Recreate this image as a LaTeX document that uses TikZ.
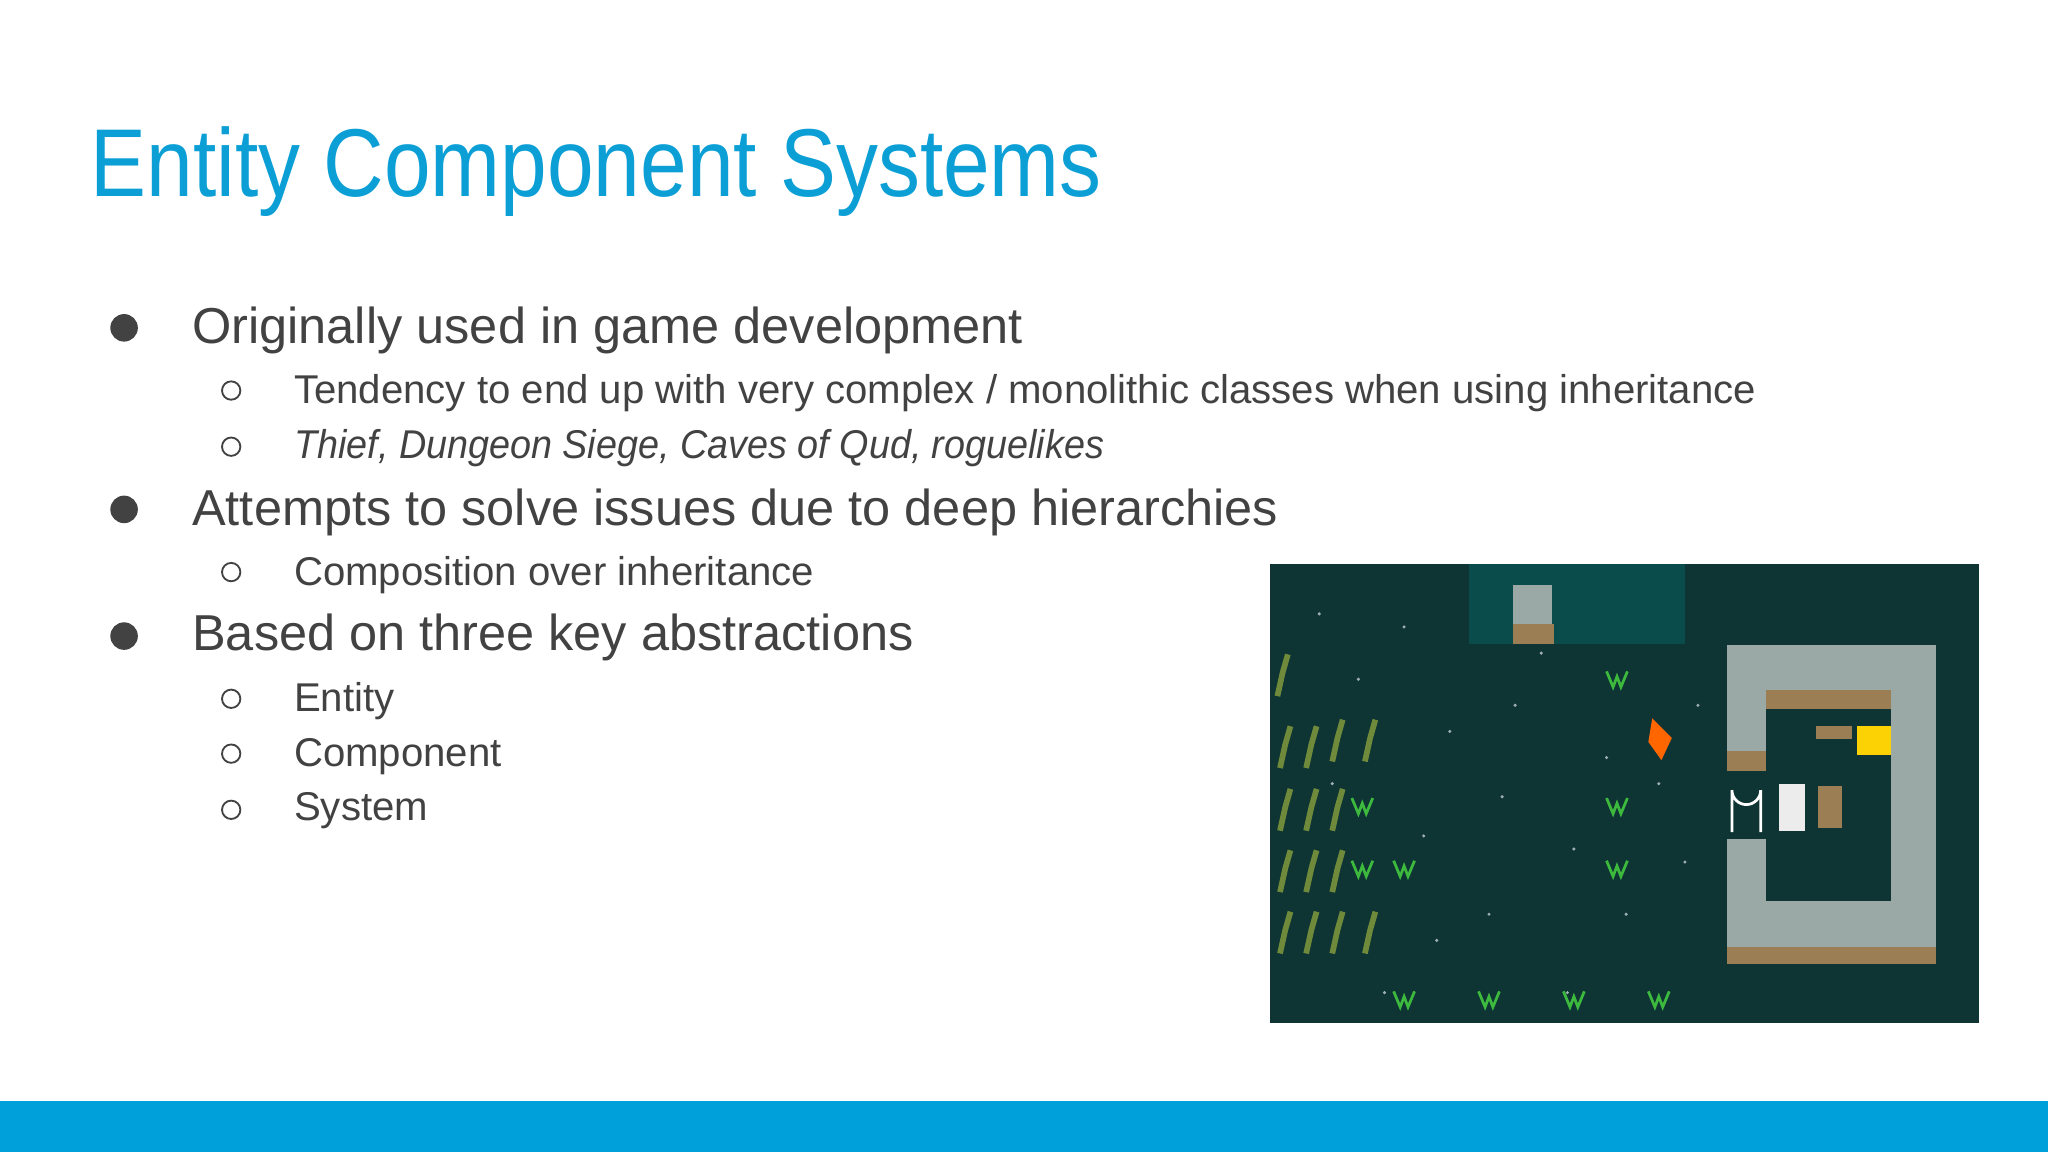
\documentclass[tikz,border=0pt]{standalone}
\usepackage{fontspec}
\setmainfont{Liberation Sans}
\definecolor{titleblue}{HTML}{0B9FD6}
\definecolor{barblue}{HTML}{00A0DA}
\definecolor{txt}{HTML}{424242}
\definecolor{scene}{HTML}{0E3434}
\definecolor{wall}{HTML}{9AA8A6}
\definecolor{wood}{HTML}{9C7E55}
\definecolor{plant}{HTML}{6E8A3A}
\definecolor{grass}{HTML}{3DBA3D}
\tikzset{
 lone/.style={anchor=west,text=txt,font=\fontsize{22}{26}\selectfont},
 ltwo/.style={anchor=west,text=txt,font=\fontsize{17.5}{21}\selectfont},
 dotb/.style={circle,fill=txt,inner sep=0pt,minimum size=12pt},
 ring/.style={circle,draw=txt,line width=0.8pt,inner sep=0pt,minimum size=8pt},
}
\begin{document}
\begin{tikzpicture}[x=0.02cm,y=-0.02cm]
\useasboundingbox (0,0) rectangle (1568,882);
\fill[white] (0,0) rectangle (1568,882);
\fill[barblue] (0,843) rectangle (1568,882);
\node[anchor=west,text=titleblue,font=\fontsize{42}{50}\selectfont,inner sep=0pt] (title) at (69,131) {\scalebox{0.87}[1]{Entity Component Systems}};
% bullets
\node[dotb] (b1) at (95,251) {};
\node[lone] (t1) at (141,253) {Originally used in game development};
\node[ring] (r1) at (177,299) {};
\node[ltwo] (t11) at (219,301) {Tendency to end up with very complex / monolithic classes when using inheritance};
\node[ring] (r2) at (177,342) {};
\node[ltwo] (t12) at (219,343) {\itshape\scalebox{0.94}[1]{Thief, Dungeon Siege, Caves of Qud, roguelikes}};
\node[dotb] (b2) at (95,390) {};
\node[lone] (t2) at (141,392) {Attempts to solve issues due to deep hierarchies};
\node[ring] (r3) at (177,438) {};
\node[ltwo] (t21) at (219,440) {Composition over inheritance};
\node[dotb] (b3) at (95,487) {};
\node[lone] (t3) at (141,488) {Based on three key abstractions};
\node[ring] (r4) at (177,535) {};
\node[ltwo] (t31) at (219,537) {Entity};
\node[ring] (r5) at (177,577) {};
\node[ltwo] (t32) at (219,579) {Component};
\node[ring] (r6) at (177,620) {};
\node[ltwo] (t33) at (219,621) {System};
% game scene
\fill[scene] (972,432) rectangle (1515,783);
\begin{scope}
\clip (972,432) rectangle (1515,783);
\foreach \x/\y in {1010/470,1040/520,1075/480,1110/560,1150/610,1180/500,1205/650,1245/700,1270/600,1300/540,1060/760,1140/700,1200/760,1090/640,1160/540,1230/580,1290/660,1020/600,1100/720,1250/490}
  \fill[white!60!scene] (\x,\y) circle (1.3);
% top building
\fill[scene!70!teal] (1125,432) rectangle (1290,493);
\fill[wall] (1158,448) rectangle (1188,478);
\fill[wood] (1158,478) rectangle (1190,493);
% right building walls
\fill[wall] (1322,494) rectangle (1482,528);
\fill[wall] (1448,494) rectangle (1482,725);
\fill[wall] (1322,494) rectangle (1352,575);
\fill[wall] (1322,642) rectangle (1352,725);
\fill[wall] (1322,690) rectangle (1482,725);
\fill[wood] (1352,528) rectangle (1448,543);
\fill[wood] (1322,575) rectangle (1352,590);
\fill[wood] (1322,725) rectangle (1482,738);
\draw[white,line width=1.2pt] (1326,637) -- (1326,605) arc (180:0:11) -- (1348,637);
\fill[white!85!gray] (1362,600) rectangle (1382,636);
\fill[wood] (1392,602) rectangle (1410,634);
\fill[wood] (1390,556) rectangle (1418,566);
\fill[yellow!70!orange] (1422,556) rectangle (1448,578);
\fill[orange!80!red] (1265,550) -- (1280,565) -- (1272,582) -- (1262,568) -- cycle;
% plants
\foreach \x/\y in {978/515,980/570,1000/570,1020/565,1045/565,980/618,1000/618,1020/618,980/665,1000/665,1020/665,980/712,1000/712,1020/712,1045/712}
  \draw[plant,line width=2.5pt] (\x,\y+18) -- (\x+4,\y) -- (\x+8,\y-14);
\foreach \x/\y in {1238/520,1043/617,1238/617,1043/665,1075/665,1238/665,1075/765,1140/765,1205/765,1270/765}
  \draw[grass,line width=1.2pt] (\x-8,\y-6) -- (\x-3,\y+6) -- (\x,\y-2) -- (\x+3,\y+6) -- (\x+8,\y-6);
\end{scope}
\end{tikzpicture}
\end{document}
